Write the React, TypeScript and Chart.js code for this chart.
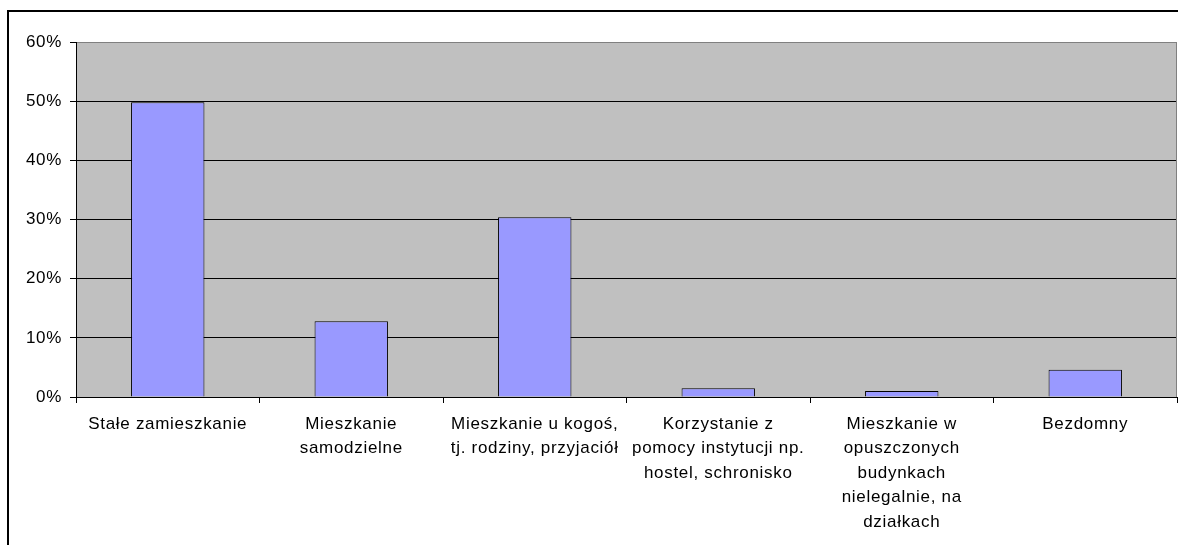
import React, { useEffect, useRef } from "react";
import { Chart, registerables } from "chart.js";

Chart.register(...registerables);

const categories: string[][] = [
  ["Stałe zamieszkanie"],
  ["Mieszkanie", "samodzielne"],
  ["Mieszkanie u kogoś,", "tj. rodziny, przyjaciół"],
  ["Korzystanie z", "pomocy instytucji np.", "hostel, schronisko"],
  ["Mieszkanie w", "opuszczonych", "budynkach", "nielegalnie, na", "działkach"],
  ["Bezdomny"],
];
const values: number[] = [49.8, 12.8, 30.4, 1.5, 1.0, 4.6];
const yTicks: number[] = [0, 10, 20, 30, 40, 50, 60];

const FONT = "'Liberation Sans', Arial, sans-serif";
const SPACING = "0.7px";

const framePlugin = {
  id: "frame",
  beforeLayout(chart: any) {
    chart.ctx.letterSpacing = SPACING;
  },
  beforeDraw(chart: any) {
    const ctx = chart.ctx;
    ctx.letterSpacing = SPACING;
    const a = chart.chartArea;
    ctx.save();
    ctx.fillStyle = "#ffffff";
    ctx.fillRect(0, 0, chart.width, chart.height);
    ctx.fillStyle = "#C0C0C0";
    ctx.fillRect(a.left, a.top, a.right - a.left, a.bottom - a.top);
    ctx.fillStyle = "#000000";
    ctx.fillRect(7, 10, 2, chart.height - 10);
    ctx.fillRect(7, 10, chart.width - 7, 2);
    ctx.restore();
  },
  afterDraw(chart: any) {
    const ctx = chart.ctx;
    const a = chart.chartArea;
    ctx.save();
    ctx.strokeStyle = "#808080";
    ctx.lineWidth = 1;
    ctx.beginPath();
    ctx.moveTo(a.right - 0.5, a.top);
    ctx.lineTo(a.right - 0.5, a.bottom);
    ctx.stroke();
    ctx.restore();
  },
};

export default function App() {
  const ref = useRef<HTMLCanvasElement>(null);
  useEffect(() => {
    if (!ref.current) return;
    const chart = new Chart(ref.current, {
      type: "bar",
      data: {
        labels: categories,
        datasets: [
          {
            data: values,
            backgroundColor: "#9999FF",
            borderColor: "#000000",
            borderWidth: 1,
            barPercentage: 0.4,
            categoryPercentage: 1.0,
          },
        ],
      },
      options: {
        animation: false,
        responsive: false,
        devicePixelRatio: 1,
        layout: { padding: { left: 0, top: 42, right: 1, bottom: 0 } },
        plugins: { legend: { display: false }, tooltip: { enabled: false } },
        scales: {
          x: {
            afterFit(scale: any) {
              scale.height = 148;
            },
            grid: {
              drawOnChartArea: false,
              offset: true,
              tickLength: 6,
              color: "#000000",
            },
            border: { display: true, color: "#000000", width: 1 },
            ticks: {
              color: "#000000",
              padding: 9,
              maxRotation: 0,
              minRotation: 0,
              autoSkip: false,
              font: { family: FONT, size: 17, lineHeight: "24.5px" },
            },
          },
          y: {
            min: 0,
            max: 60,
            afterFit(scale: any) {
              scale.width = 76;
            },
            afterBuildTicks(scale: any) {
              scale.ticks = yTicks.map((v) => ({ value: v }));
            },
            grid: {
              color: (c: any) => (c.tick && c.tick.value === 60 ? "#808080" : "#000000"),
              tickColor: "#000000",
              tickLength: 6,
              lineWidth: 1,
            },
            border: { display: true, color: "#000000", width: 1 },
            ticks: {
              color: "#000000",
              padding: 8,
              font: { family: FONT, size: 17 },
              callback: (v: any) => v + "%",
            },
          },
        },
      },
      plugins: [framePlugin],
    });
    return () => chart.destroy();
  }, []);
  return (
    <div style={{ position: "fixed", left: 0, top: 0, width: 1178, height: 545 }}>
      <canvas ref={ref} width={1178} height={545} style={{ display: "block" }} />
    </div>
  );
}
